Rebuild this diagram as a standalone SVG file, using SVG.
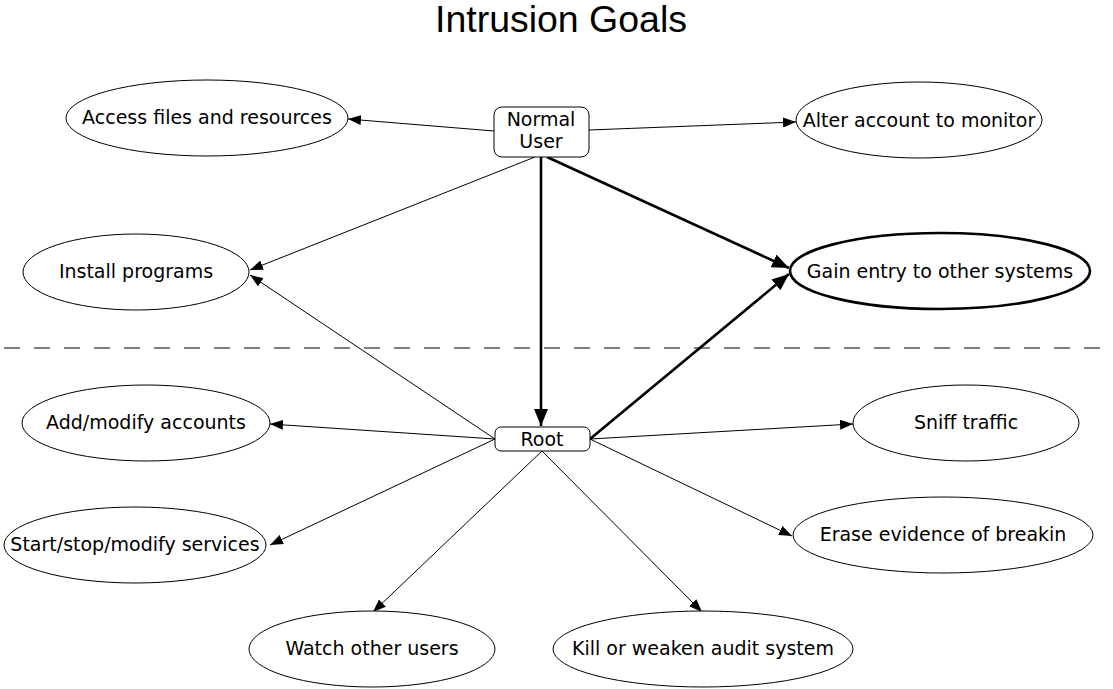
<svg xmlns="http://www.w3.org/2000/svg" width="1113" height="689" viewBox="0 0 1113 689">
<style>
.n{font-family:"DejaVu Sans",sans-serif;font-size:19px;fill:#000;text-anchor:middle}
.e{fill:#fff;stroke:#000;stroke-width:1}
.b{fill:#fff;stroke:#000;stroke-width:1}
.c{stroke:#000;stroke-width:1;fill:none;marker-end:url(#a)}
.t{stroke:#000;stroke-width:2.6;fill:none;marker-end:url(#at)}
</style>
<defs>
<marker id="a" markerWidth="14" markerHeight="10" refX="13" refY="5" orient="auto" markerUnits="userSpaceOnUse">
<path d="M0,0 L13,5 L0,10 Z" fill="#000"/>
</marker>
<marker id="at" markerWidth="18" markerHeight="14" refX="17" refY="7" orient="auto" markerUnits="userSpaceOnUse">
<path d="M0,0 L17,7 L0,14 Z" fill="#000"/>
</marker>
</defs>
<rect width="1113" height="689" fill="#fff"/>
<text x="561" y="32" font-family="Liberation Sans,Arial,sans-serif" font-size="37" text-anchor="middle" textLength="252" lengthAdjust="spacingAndGlyphs">Intrusion Goals</text>
<line x1="4" y1="348" x2="1110" y2="348" stroke="#808080" stroke-width="2" stroke-dasharray="16,14"/>
<g id="connectors">
<line class="c" x1="494" y1="131" x2="348" y2="119"/>
<line class="c" x1="589" y1="130" x2="796" y2="122"/>
<line class="c" x1="535" y1="157" x2="250" y2="270"/>
<line class="t" x1="541" y1="157" x2="541" y2="426"/>
<line class="t" x1="547" y1="157" x2="789" y2="268"/>
<line class="t" x1="590" y1="439" x2="789" y2="274"/>
<line class="c" x1="495" y1="439" x2="250" y2="275"/>
<line class="c" x1="495" y1="439" x2="270" y2="424"/>
<line class="c" x1="495" y1="439" x2="270" y2="545"/>
<line class="c" x1="542" y1="451" x2="373" y2="612"/>
<line class="c" x1="542" y1="451" x2="702" y2="612"/>
<line class="c" x1="590" y1="439" x2="853" y2="424"/>
<line class="c" x1="590" y1="439" x2="792" y2="536"/>
</g>
<g id="normal-user"><rect class="b" x="494" y="107" width="95" height="50" rx="8"/><text class="n" x="541" y="126">Normal</text><text class="n" x="541" y="148">User</text></g>
<g id="root"><rect class="b" x="495" y="427" width="95" height="24" rx="6"/><text class="n" x="542" y="446">Root</text></g>
<g id="access"><ellipse class="e" cx="207" cy="118" rx="141" ry="38"/><text class="n" x="207" y="124">Access files and resources</text></g>
<g id="alter"><ellipse class="e" cx="919" cy="120" rx="123" ry="38"/><text class="n" x="919" y="127">Alter account to monitor</text></g>
<g id="install"><ellipse class="e" cx="136" cy="272" rx="113" ry="38"/><text class="n" x="136" y="278">Install programs</text></g>
<g id="gain"><ellipse class="e" cx="940" cy="271" rx="150" ry="38" style="stroke-width:2.6"/><text class="n" x="940" y="278">Gain entry to other systems</text></g>
<g id="addmod"><ellipse class="e" cx="146" cy="423" rx="124" ry="38"/><text class="n" x="146" y="429">Add/modify accounts</text></g>
<g id="sniff"><ellipse class="e" cx="966" cy="423" rx="113" ry="38"/><text class="n" x="966" y="429">Sniff traffic</text></g>
<g id="services"><ellipse class="e" cx="135" cy="545" rx="131" ry="38"/><text class="n" x="135" y="551">Start/stop/modify services</text></g>
<g id="erase"><ellipse class="e" cx="943" cy="535" rx="150" ry="38"/><text class="n" x="943" y="541">Erase evidence of breakin</text></g>
<g id="watch"><ellipse class="e" cx="372" cy="649" rx="123" ry="38"/><text class="n" x="372" y="655">Watch other users</text></g>
<g id="kill"><ellipse class="e" cx="703" cy="649" rx="150" ry="38"/><text class="n" x="703" y="655">Kill or weaken audit system</text></g>
</svg>
